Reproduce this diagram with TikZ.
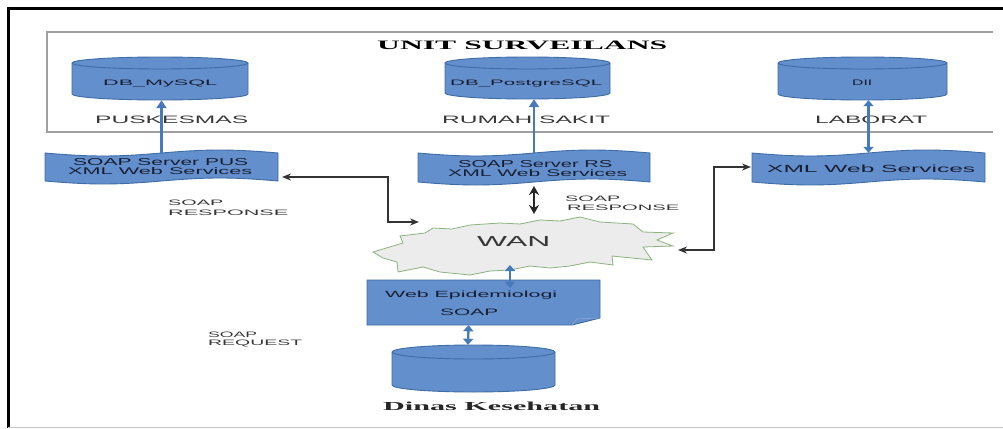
\documentclass[tikz,border=0pt]{standalone}
\usepackage{fontspec}
\setmainfont{Liberation Serif}
\setsansfont{Liberation Sans}
\usetikzlibrary{arrows.meta,calc}
\definecolor{boxblue}{RGB}{99,143,204}
\definecolor{boxline}{RGB}{62,108,165}
\definecolor{arrowblue}{RGB}{70,122,186}
\definecolor{labelgrey}{RGB}{55,55,55}
\definecolor{intext}{RGB}{24,30,50}
\definecolor{wanfill}{RGB}{236,236,236}
\definecolor{wanline}{RGB}{140,178,128}
\definecolor{framegrey}{RGB}{160,160,160}
\newcommand\fitt[3]{\resizebox{#1pt}{#2pt}{#3}}
% cylinder: cx, rx, ytop, ybot, ry
\newcommand\cyl[5]{%
  \fill[boxblue] ({#1-#2},{#3+#5}) -- ({#1-#2},{#4-#5}) arc[start angle=180,end angle=360,x radius=#2pt,y radius=#5pt] -- ({#1+#2},{#3+#5}) arc[start angle=0,end angle=180,x radius=#2pt,y radius=#5pt] -- cycle;
  \draw[boxline,line width=0.9pt] ({#1-#2},{#3+#5}) -- ({#1-#2},{#4-#5}) arc[start angle=180,end angle=360,x radius=#2pt,y radius=#5pt] -- ({#1+#2},{#3+#5}) arc[start angle=0,end angle=180,x radius=#2pt,y radius=#5pt] -- cycle;
  \draw[boxline,line width=0.9pt] ({#1-#2},{#3+#5}) arc[start angle=180,end angle=360,x radius=#2pt,y radius=#5pt];
}
% wavy tape: x1, x2, ytop, ybot
\newcommand\tapebox[4]{%
  \filldraw[fill=boxblue,draw=boxline,line width=0.9pt] (#1,#3) .. controls ({#1+0.2*(#2-#1)},{#3+4}) and ({#1+0.3*(#2-#1)},{#3+4}) .. ({(#1+#2)/2},#3) .. controls ({#1+0.7*(#2-#1)},{#3-4}) and ({#1+0.8*(#2-#1)},{#3-4}) .. (#2,#3) -- (#2,#4) .. controls ({#1+0.8*(#2-#1)},{#4-4}) and ({#1+0.7*(#2-#1)},{#4-4}) .. ({(#1+#2)/2},#4) .. controls ({#1+0.3*(#2-#1)},{#4+4}) and ({#1+0.2*(#2-#1)},{#4+4}) .. (#1,#4) -- cycle;
}
\tikzset{
  txt/.style={inner sep=0pt, anchor=base west, font=\sffamily, text=labelgrey},
  intxt/.style={inner sep=0pt, anchor=base west, font=\sffamily, text=intext},
  hold/.style={draw=none, fill=none, inner sep=0pt},
  barrow/.style={draw=arrowblue, line width=2.4pt, -{Triangle[length=8pt,width=10pt]}},
  bdarrow/.style={draw=arrowblue, line width=2.4pt, {Triangle[length=6pt,width=10pt]}-{Triangle[length=6pt,width=10pt]}},
  karrow/.style={draw=black!80, line width=1.6pt, {Stealth[length=9pt,width=7pt]}-{Stealth[length=9pt,width=7pt]}},
  kbig/.style={draw=black!85, line width=2.6pt, {Stealth[length=9pt,width=10pt]}-{Stealth[length=9pt,width=10pt]}}
}
\begin{document}
\begin{tikzpicture}[x=1pt,y=-1pt]
\useasboundingbox (0,0) rectangle (1003,428);
% outer frame
\draw[black,line width=3pt] (8,428) -- (8,9) -- (1003,9);
\draw[framegrey!60,line width=0.8pt] (8,427) -- (1003,427);
% unit surveilans box
\draw[framegrey,line width=1.2pt] (993,32) -- (47,32) -- (47,132) -- (993,132);
\node[inner sep=0pt,anchor=base west,font=\rmfamily\bfseries] (title) at (377,50) {\fitt{290}{8.5}{UNIT SURVEILANS}};

% databases
\cyl{160}{88}{57}{100}{6}
\node[hold,minimum width=176pt,minimum height=43pt] (pusdb) at (160,78.5) {};
\cyl{527.5}{82.5}{57}{99}{6}
\node[hold,minimum width=165pt,minimum height=42pt] (rsdb) at (527.5,78) {};
\cyl{862.5}{84.5}{57}{100}{6}
\node[hold,minimum width=169pt,minimum height=43pt] (labdb) at (862.5,78.5) {};
\node[intxt] (t1) at (103,85) {\fitt{114}{5.5}{DB\_MySQL}};
\node[intxt] (t2) at (450,85) {\fitt{152}{5.5}{DB\_PostgreSQL}};
\node[intxt] (t3) at (852,85) {\fitt{20}{5.5}{DII}};

\node[txt] (t4) at (95,123) {\fitt{153}{7.5}{PUSKESMAS}};
\node[txt] (t5) at (442,123) {\fitt{168}{7.5}{RUMAH SAKIT}};
\node[txt] (t6) at (815,123) {\fitt{112}{7.5}{LABORAT}};

% servers
\tapebox{45}{278}{153}{181}
\node[hold,minimum width=233pt,minimum height=28pt] (pusserv) at (161.5,167) {};
\tapebox{418}{650}{153}{182}
\node[hold,minimum width=232pt,minimum height=29pt] (rsserv) at (534,167.5) {};
\tapebox{752}{985}{153}{182}
\node[hold,minimum width=233pt,minimum height=29pt] (labserv) at (868.5,167.5) {};
\node[intxt] (t7) at (73,165) {\fitt{175}{7}{SOAP Server PUS}};
\node[intxt] (t8) at (68,174) {\fitt{184}{7}{XML Web Services}};
\node[intxt] (t9) at (458,167) {\fitt{154}{7}{SOAP Server RS}};
\node[intxt] (t10) at (448,176) {\fitt{179}{7}{XML Web Services}};
\node[intxt] (t11) at (767,172) {\fitt{208}{7.5}{XML Web Services}};

% vertical blue arrows
\draw[barrow] (pusserv.north) -- (pusserv.north |- pusdb.south);
\draw[barrow] (rsserv.north) -- (rsserv.north |- rsdb.south);
\draw[bdarrow] (labserv.north) -- (labserv.north |- labdb.south);

% WAN cloud
\filldraw[fill=wanfill,draw=wanline,line width=0.8pt]
 (373,252) -- (403,243) -- (400,236) -- (425,233) -- (433,228) -- (452,229) -- (470,225) -- (500,223) -- (520,224) -- (540,220) -- (560,221) -- (580,217) -- (600,222) -- (633,224) -- (643,232) -- (673,233) -- (657,240) -- (673,246) -- (643,247) -- (652,260) -- (612,256) -- (613,265) -- (590,262) -- (570,266) -- (550,268) -- (530,266) -- (510,270) -- (490,271) -- (470,275) -- (440,272) -- (423,267) -- (398,272) -- (397,262) -- (383,258) -- cycle;
\node[hold,minimum width=300pt,minimum height=58pt] (wan) at (523,246) {};
\node[txt] (t12) at (477,246) {\fitt{73}{10}{WAN}};

% coordinates for connector ends
\coordinate (pusR) at (282,177);
\coordinate (wanL) at (419,222);
\coordinate (rsB) at (534,186);
\coordinate (wanT) at (534,214);
\coordinate (wanR) at (678,250);
\coordinate (labL) at (751,167);
\coordinate (wanB) at (510,265);

\draw[karrow] (pusR) -| ($(wanL)+(-31,0)$) -- (wanL);
\draw[kbig] (rsB) -- (wanT);
\draw[karrow] (wanR) -| ($(labL)+(-37,0)$) -- (labL);

% labels
\node[txt] (t13) at (168,205.5) {\fitt{55}{5.5}{SOAP}};
\node[txt] (t14) at (168,215) {\fitt{120}{5.5}{RESPONSE}};
\node[txt] (t15) at (565,201) {\fitt{55}{5.5}{SOAP}};
\node[txt] (t16) at (567,210) {\fitt{112}{5.5}{RESPONSE}};
\node[txt] (t17) at (208,337.5) {\fitt{49}{5.5}{SOAP}};
\node[txt] (t18) at (208,345) {\fitt{94}{5.5}{REQUEST}};

% Web Epidemiologi document
\filldraw[fill=boxblue,draw=boxline,line width=0.9pt] (367,280) -- (600,280) -- (600,318) -- (572,325) -- (367,325) -- cycle;
\draw[boxline!60,line width=0.6pt] (572,325) -- (577,319) -- (600,318);
\node[hold,minimum width=233pt,minimum height=45pt] (webepi) at (483.5,302.5) {};
\node[intxt] (t19) at (385,297) {\fitt{172}{6.5}{Web Epidemiologi}};
\node[intxt] (t20) at (440,315) {\fitt{58}{6.5}{SOAP}};

\draw[bdarrow] (wanB) -- ($(wanB |- webepi.north)+(0,8)$);

% Dinas DB
\cyl{473.5}{81.5}{345}{392}{7}
\node[hold,minimum width=163pt,minimum height=47pt] (dinasdb) at (473.5,368.5) {};
\draw[bdarrow] ($(webepi.south)+(-15,0)$) -- ($(dinasdb.north)+(-5.5,0)$);
\node[inner sep=0pt,anchor=base west,font=\rmfamily\bfseries,text=black!85] (t21) at (383,410) {\fitt{217}{8.5}{Dinas Kesehatan}};
\end{tikzpicture}
\end{document}
